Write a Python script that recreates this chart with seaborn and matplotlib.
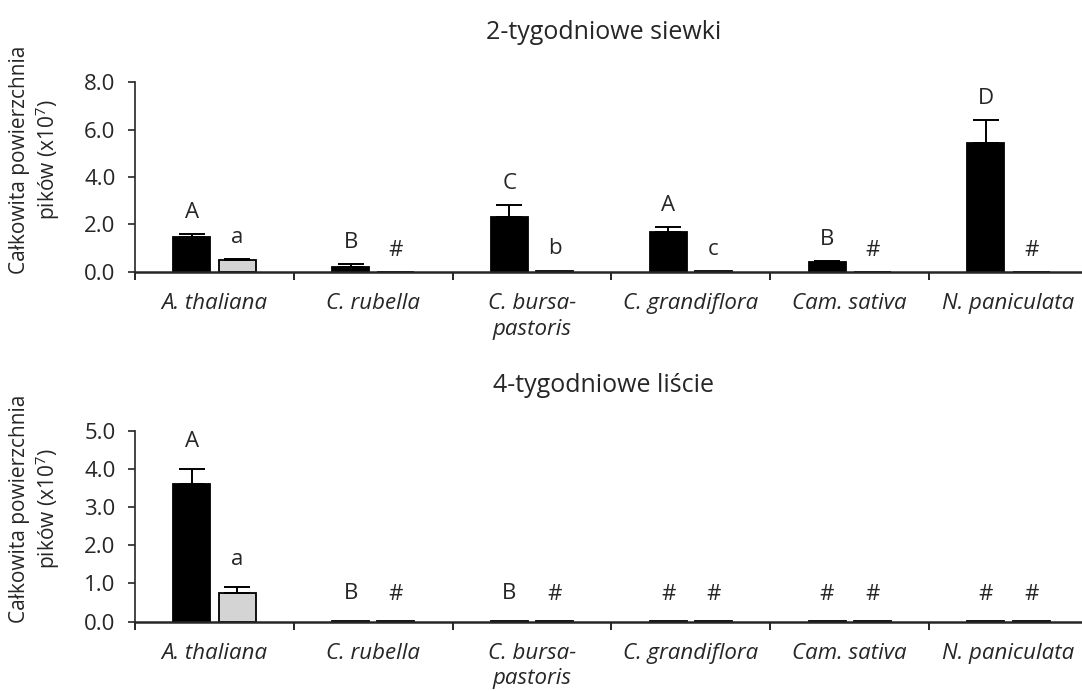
import numpy as np
import pandas as pd
import matplotlib
matplotlib.use("Agg")
import matplotlib.pyplot as plt
from matplotlib.ticker import FixedLocator, FormatStrFormatter
import seaborn as sns

# ---------------- data ----------------
species = ["A. thaliana", "C. rubella", "C. bursa-\npastoris",
           "C. grandiflora", "Cam. sativa", "N. paniculata"]
groups = ["I", "II"]

seedlings_black = [1.46, 0.22, 2.33, 1.67, 0.41, 5.42]
seedlings_black_err = [0.12, 0.10, 0.48, 0.24, 0.04, 0.98]
seedlings_gray = [0.50, 0.01, 0.06, 0.03, 0.01, 0.01]
seedlings_gray_err = [0.05, 0.0, 0.0, 0.0, 0.0, 0.0]
seedlings_letters_black = ["A", "B", "C", "A", "B", "D"]
seedlings_letters_gray = ["a", "#", "b", "c", "#", "#"]

leaves_black = [3.60, 0.02, 0.02, 0.01, 0.01, 0.01]
leaves_black_err = [0.40, 0.0, 0.0, 0.0, 0.0, 0.0]
leaves_gray = [0.74, 0.01, 0.01, 0.01, 0.01, 0.01]
leaves_gray_err = [0.18, 0.0, 0.0, 0.0, 0.0, 0.0]
leaves_letters_black = ["A", "B", "B", "#", "#", "#"]
leaves_letters_gray = ["a", "#", "#", "#", "#", "#"]

titles = ["2-tygodniowe siewki", "4-tygodniowe liście"]
ylabel = "Całkowita powierzchnia\npików (x10$^7$)"

# ---------------- style ----------------
sns.set_style("ticks")
plt.rcParams["font.family"] = ["Open Sans", "DejaVu Sans"]
plt.rcParams["mathtext.fontset"] = "custom"
plt.rcParams["mathtext.rm"] = "Open Sans"
FS_TICK = 16
FS_XTICK = 16
FS_TITLE = 18
FS_LAB = 15
FS_LET = 16

fig = plt.figure(figsize=(10.82, 6.91), dpi=100)
ax_top = fig.add_axes([0.1248, 0.6064, 0.8807, 0.2749])
ax_bot = fig.add_axes([0.1248, 0.1003, 0.8807, 0.2764])

palette = {"I": "black", "II": "#d4d4d4"}


def panel(ax, black, black_err, gray, gray_err, lb, lg, ymax, ystep, title,
          letter_off, title_pad):
    df = pd.DataFrame({
        "species": species * 2,
        "group": [groups[0]] * len(species) + [groups[1]] * len(species),
        "value": list(black) + list(gray),
    })
    sns.barplot(data=df, x="species", y="value", hue="group", order=species,
                hue_order=groups, palette=palette, width=0.57, gap=0.18,
                edgecolor="black", linewidth=1.3, errorbar=None, legend=False, ax=ax)
    for cont, vals, errs, letters in zip(ax.containers[:2], [black, gray],
                                         [black_err, gray_err], [lb, lg]):
        for bar, v, e, t in zip(cont, vals, errs, letters):
            xc = bar.get_x() + bar.get_width() / 2
            if e > 0:
                ax.errorbar([xc], [v], yerr=[[0], [e]], fmt="none", ecolor="black",
                            elinewidth=1.4, capsize=9.5, capthick=1.4, zorder=3)
            ax.annotate(t, (xc, v + e), xytext=(0, letter_off), textcoords="offset points",
                        ha="center", va="bottom", fontsize=FS_LET)
    ax.set_xlim(-0.5, len(species) - 0.5)
    ax.set_ylim(0, ymax)
    ax.set_yticks(np.arange(0, ymax + ystep / 2, ystep))
    ax.yaxis.set_major_formatter(FormatStrFormatter("%.1f"))
    ax.tick_params(axis="y", labelsize=FS_TICK, direction="out", length=5, width=1.2, pad=9)
    ax.tick_params(axis="x", which="major", length=0, labelsize=FS_XTICK, pad=15)
    ax.xaxis.set_minor_locator(FixedLocator(np.arange(-0.5, len(species), 1.0)))
    ax.tick_params(axis="x", which="minor", length=6, width=1.4, direction="out")
    for lab in ax.get_xticklabels():
        lab.set_fontstyle("italic")
        lab.set_linespacing(1.3)
        lab.set_verticalalignment("top")
    ax.set_xlabel("")
    ax.set_ylabel(ylabel, fontsize=FS_LAB, linespacing=1.15)
    ax.yaxis.set_label_coords(-0.077, 0.59)
    ax.set_title(title, fontsize=FS_TITLE, pad=title_pad, x=0.492)
    sns.despine(ax=ax)
    ax.spines["left"].set_linewidth(1.2)
    ax.spines["bottom"].set_linewidth(1.8)


panel(ax_top, seedlings_black, seedlings_black_err, seedlings_gray, seedlings_gray_err,
      seedlings_letters_black, seedlings_letters_gray, 8.0, 2.0, titles[0], 8, 31)
panel(ax_bot, leaves_black, leaves_black_err, leaves_gray, leaves_gray_err,
      leaves_letters_black, leaves_letters_gray, 5.0, 1.0, titles[1], 12, 28)

fig.savefig("out.png", dpi=100)
